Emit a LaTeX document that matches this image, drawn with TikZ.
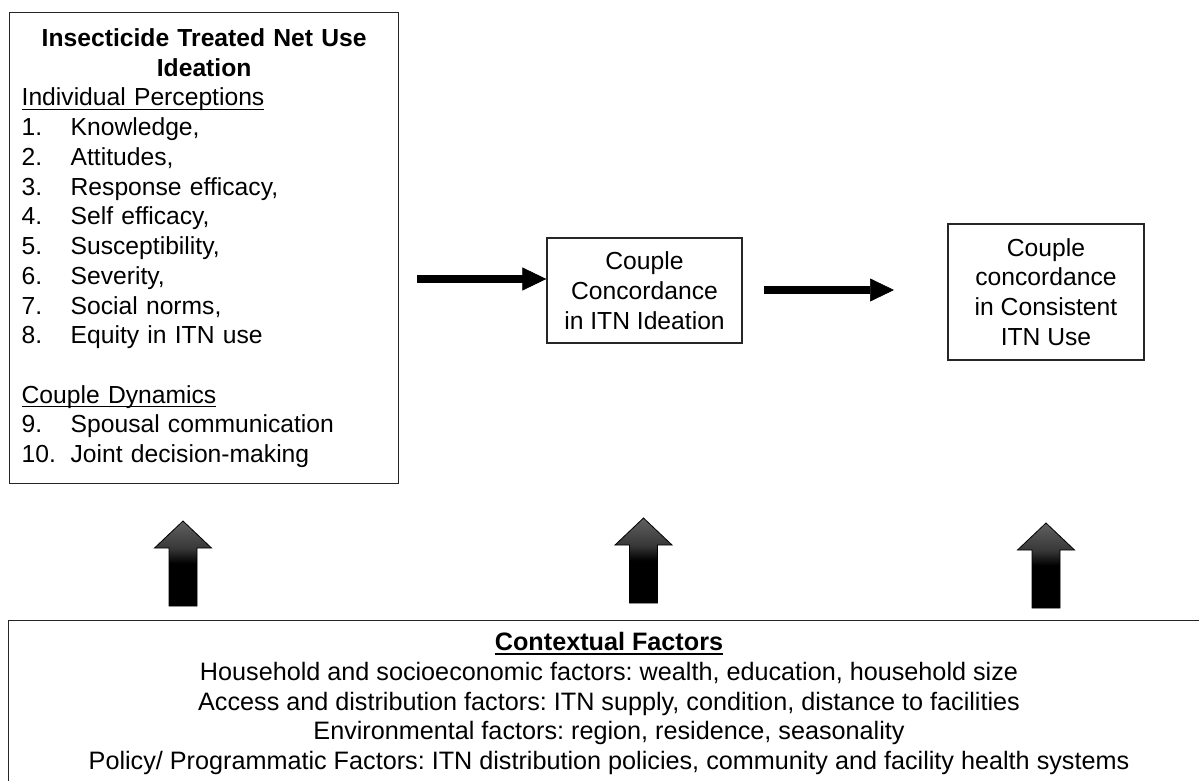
\documentclass[tikz,border=0pt]{standalone}
\usepackage{fontspec}
\setmainfont{Liberation Sans}
\usetikzlibrary{arrows.meta}
\setlength\parindent{0pt}
\frenchspacing
\pgfdeclareverticalshading{blockshade}{100bp}{color(0bp)=(black); color(50bp)=(black); color(59bp)=(black!78); color(75bp)=(black!62); color(100bp)=(black!62)}
\newcommand\itm[2]{\par\makebox[36.75pt][l]{#1}#2}
\newcommand\uln[1]{\leavevmode\setbox0\hbox{#1}\rlap{\rule[-3.2pt]{\wd0}{1.1pt}}\box0}
\newcommand\blockarrow[2]{%
  \path[blockup] (#1,#2) -- ++(28.5,27) -- ++(-14.5,0) -- ++(0,58) -- ++(-28,0) -- ++(0,-58) -- ++(-14.5,0) -- cycle;}
\begin{document}
\begin{tikzpicture}[x=0.75pt,y=-0.75pt,
  txt/.style={font=\fontsize{18.5pt}{22.3pt}\selectfont},
  ctxt/.style={font=\fontsize{18.9pt}{22.3pt}\selectfont},
  box/.style={draw=black!85, line width=1pt, fill=white, inner sep=0pt, txt},
  flow/.style={line width=6pt, -{Triangle[length=18pt,width=17.25pt,line width=0.5pt]}},
  blockup/.style={draw=black, line width=0.6pt, shading=blockshade}]
\useasboundingbox (0,0) rectangle (1199,781);
\clip (0,0) rectangle (1199,781);

% left box
\node[box, anchor=north west, minimum width=291.75pt, minimum height=353.25pt,
      text width=273.75pt] (ideation) at (9,12) {%
  {\centering\bfseries Insecticide Treated Net Use\\ Ideation\par}
  \raggedright
  \uln{Individual Perceptions}
  \itm{1.}{Knowledge,}
  \itm{2.}{Attitudes,}
  \itm{3.}{Response efficacy,}
  \itm{4.}{Self efficacy,}
  \itm{5.}{Susceptibility,}
  \itm{6.}{Severity,}
  \itm{7.}{Social norms,}
  \itm{8.}{Equity in ITN use}
  \par\mbox{}
  \par\uln{Couple Dynamics}
  \itm{9.}{Spousal communication}
  \itm{10.}{Joint decision-making}\par};

% middle box
\node[box, align=center, minimum width=146.25pt, minimum height=78.75pt] (mid) at (644.5,290.5)
  {Couple\\ Concordance\\ in ITN Ideation};

% right box
\node[box, align=center, minimum width=147pt, minimum height=102pt] (right) at (1046,292)
  {Couple\\ concordance\\ in Consistent\\ ITN Use};

% flow arrows
\coordinate (f1s) at (417,279);
\draw[flow] (f1s) -- (f1s -| mid.west);
\coordinate (f2s) at (764,290);
\coordinate (f2e) at (894,290);
\draw[flow] (f2s) -- (f2e);

% block arrows
\blockarrow{183}{521}
\blockarrow{643.5}{518}
\blockarrow{1046}{523}

% bottom box
\node[box, anchor=north west, minimum width=901.5pt, minimum height=140pt] (context) at (8,620) {};
\node[ctxt, align=center, inner sep=0pt] (ctxtext) at (609,703.5)
  {\textbf{\uln{Contextual Factors}}\\
   Household and socioeconomic factors: wealth, education, household size\\
   Access and distribution factors: ITN supply, condition, distance to facilities\\
   Environmental factors: region, residence, seasonality\\
   Policy/ Programmatic Factors: ITN distribution policies, community and facility health systems};
\end{tikzpicture}
\end{document}
